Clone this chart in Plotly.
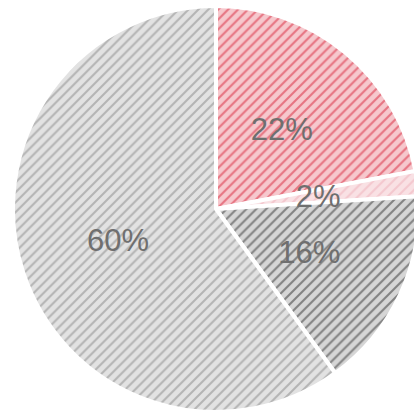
import plotly.graph_objects as go

labels = ["A", "B", "C", "D"]
values = [22, 2, 16, 60]
bg_colors = ["#f6c8cd", "#f9e1e4", "#d6d6d6", "#e2e2e2"]
fg_colors = ["#d61f36", "#eeaeb7", "#2e2e2e", "#858585"]

FIG_W, FIG_H = 424, 414
CX, CY, R = 216, 209, 203


def dom(cx, cy, r):
    return dict(x=[(cx - r) / FIG_W, (cx + r) / FIG_W],
                y=[(FIG_H - (cy + r)) / FIG_H, (FIG_H - (cy - r)) / FIG_H])


font = dict(family="Liberation Sans, Arial, sans-serif", size=31, color="#6f6f6f")
common = dict(labels=labels, values=values, sort=False, direction="clockwise",
              rotation=0, showlegend=False, hoverinfo="skip")

# main slices
main = go.Pie(
    **common,
    domain=dom(CX, CY, R),
    textinfo="none",
    marker=dict(
        colors=bg_colors,
        line=dict(color="white", width=4),
        pattern=dict(shape="/", bgcolor=bg_colors, fgcolor=fg_colors,
                     size=7, solidity=0.3, fillmode="overlay"),
    ),
)

# transparent label rings so percentages sit at half radius
big_tpl = ["%{percent:.0%}", "", "%{percent:.0%}", "%{percent:.0%}"]
small_tpl = ["", "%{percent:.0%}", "", ""]
clear = ["rgba(0,0,0,0)"] * 4

lab_a = go.Pie(
    **common, domain=dom(CX, CY, 148), hole=0.392,
    texttemplate=big_tpl, textposition="inside", insidetextorientation="horizontal",
    textfont=font, marker=dict(colors=clear, line=dict(width=0)),
)
lab_b = go.Pie(
    **common, domain=dom(CX, CY, 109.5), hole=0.5,
    texttemplate=small_tpl, textposition="inside", insidetextorientation="horizontal",
    textfont=font, marker=dict(colors=clear, line=dict(width=0)),
)

fig = go.Figure([main, lab_a, lab_b])
fig.update_layout(
    width=FIG_W, height=FIG_H,
    margin=dict(l=0, r=0, t=0, b=0),
    paper_bgcolor="white",
    uniformtext=dict(minsize=31, mode="show"),
)
fig.write_html(
    "out.html",
    config={"displayModeBar": False},
    post_script="document.body.style.margin='0';document.body.style.overflow='hidden';",
)
